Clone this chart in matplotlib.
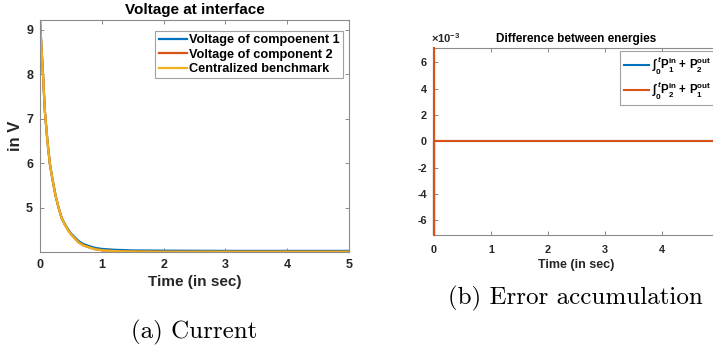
import matplotlib
matplotlib.use("Agg")
import matplotlib.pyplot as plt
from matplotlib.ticker import FuncFormatter

# --- DATA ---
# interface voltage, read at a handful of time points (sec -> V)
t_volt = [0, 0.02, 0.05, 0.08, 0.12, 0.16, 0.20, 0.25, 0.30, 0.35, 0.40, 0.46,
          0.50, 0.62, 0.70, 0.78, 0.90, 1.0, 1.2, 1.5, 2.0, 3.0, 4.0, 5.0]
v_comp1 = [9.20, 8.70, 7.95, 7.15, 6.50, 5.98, 5.65, 5.28, 5.00, 4.77, 4.63, 4.50,
           4.42, 4.25, 4.18, 4.14, 4.09, 4.07, 4.05, 4.035, 4.03, 4.025, 4.025, 4.025]
v_comp2 = [9.20, 8.70, 7.95, 7.15, 6.50, 5.98, 5.65, 5.28, 5.00, 4.76, 4.62, 4.48,
           4.40, 4.22, 4.15, 4.11, 4.06, 4.04, 4.02, 4.01, 4.005, 4.005, 4.005, 4.005]
v_bench = [9.20, 8.70, 7.95, 7.15, 6.50, 5.98, 5.65, 5.28, 5.00, 4.76, 4.62, 4.48,
           4.40, 4.22, 4.15, 4.11, 4.06, 4.04, 4.02, 4.01, 4.005, 4.005, 4.005, 4.005]

# energy mismatch: spike at t=0, zero afterwards
t_err = [0, 0, 0, 5.0]
err_12 = [0.0071, -0.0071, 0.0, 0.0]
err_21 = [0.0071, -0.0071, 0.0, 0.0]

MATLAB_BLUE = '#0072BD'
MATLAB_ORANGE = '#D95319'
MATLAB_YELLOW = '#EDB120'
AXIS_GRAY = '#8a8a8a'
TEXT_DARK = '#262626'

plt.rcParams['font.family'] = ['Liberation Sans', 'DejaVu Sans']
plt.rcParams['font.weight'] = 'bold'
plt.rcParams['axes.unicode_minus'] = False
plt.rcParams['mathtext.fontset'] = 'custom'
plt.rcParams['mathtext.rm'] = 'Liberation Sans'
plt.rcParams['mathtext.bf'] = 'Liberation Sans:bold'
plt.rcParams['mathtext.it'] = 'Liberation Sans:bold:italic'

fig = plt.figure(figsize=(7.13, 3.49), dpi=100)


def matlab_box(ax, tick_size, pad=5):
    for s in ax.spines.values():
        s.set_color(AXIS_GRAY)
        s.set_linewidth(0.8)
    ax.tick_params(direction='in', top=True, right=True, length=3,
                   width=0.7, color=AXIS_GRAY, labelcolor=TEXT_DARK,
                   labelsize=tick_size, pad=pad)


# --- (a) voltage at interface ---
ax1 = fig.add_axes([40 / 713, 97 / 349, 309 / 713, 232 / 349])
ax1.plot(t_volt, v_comp1, color=MATLAB_BLUE, lw=1.6, label='Voltage of compoenent 1')
ax1.plot(t_volt, v_comp2, color=MATLAB_ORANGE, lw=1.6, label='Voltage of component 2')
ax1.plot(t_volt, v_bench, color=MATLAB_YELLOW, lw=1.6, label='Centralized benchmark')
ax1.set_xlim(0, 5)
ax1.set_ylim(4.0, 9.22)
ax1.set_yticks([5, 6, 7, 8, 9])
matlab_box(ax1, 9)
ax1.set_title('Voltage at interface', fontsize=11, fontweight='bold', color='black', pad=4)
ax1.set_xlabel('Time (in sec)', fontsize=11, fontweight='bold', color=TEXT_DARK, labelpad=3)
ax1.set_ylabel('in V', fontsize=12, fontweight='bold', color=TEXT_DARK, labelpad=2)
leg1 = ax1.legend(loc='upper right', bbox_to_anchor=(0.981, 0.953), fontsize=9.2,
                  frameon=True, fancybox=False, handlelength=2.2, handletextpad=0.2,
                  borderpad=0.25, labelspacing=0.2, borderaxespad=0)
leg1.get_frame().set_edgecolor(AXIS_GRAY)
leg1.get_frame().set_linewidth(0.8)

# --- (b) error accumulation ---
ax2 = fig.add_axes([434 / 713, 114 / 349, 284.6 / 713, 187.3 / 349])
ax2.plot(t_err, err_12, color=MATLAB_BLUE, lw=1.5, clip_on=False, zorder=3,
         label=r'$\int_{\mathbf{0}}^{t}\mathbf{P}_{\mathbf{1}}^{\mathbf{in}}\ \mathbf{+}\ \mathbf{P}_{\mathbf{2}}^{\mathbf{out}}$')
ax2.plot(t_err, err_21, color=MATLAB_ORANGE, lw=1.5, clip_on=False, zorder=3,
         label=r'$\int_{\mathbf{0}}^{t}\mathbf{P}_{\mathbf{2}}^{\mathbf{in}}\ \mathbf{+}\ \mathbf{P}_{\mathbf{1}}^{\mathbf{out}}$')
ax2.set_xlim(0, 5)
ax2.set_ylim(-7.1e-3, 7.1e-3)
ax2.set_xticks([0, 1, 2, 3, 4])
ax2.set_yticks([-6e-3, -4e-3, -2e-3, 0, 2e-3, 4e-3, 6e-3])
# tick labels in units of 1e-3, exponent shown above the axis
ax2.yaxis.set_major_formatter(FuncFormatter(lambda v, pos: f'{v * 1e3:g}'))
ax2.text(-0.01, 1.012, r'$\times10^{-3}$', transform=ax2.transAxes,
         fontsize=8, fontweight='normal', color=TEXT_DARK, ha='left', va='bottom')
matlab_box(ax2, 7.8)
ax2.tick_params(axis='x', pad=7)
ax2.set_title('Difference between energies', fontsize=8.5, fontweight='bold', color='black', pad=4)
ax2.set_xlabel('Time (in sec)', fontsize=9, fontweight='bold', color=TEXT_DARK, labelpad=3)
leg2 = ax2.legend(loc='upper right', fontsize=8.3, frameon=True, fancybox=False,
                  handlelength=2.2, handletextpad=0.3, borderpad=0.3,
                  labelspacing=0.2, borderaxespad=0.3)
leg2.get_frame().set_edgecolor(AXIS_GRAY)
leg2.get_frame().set_linewidth(0.8)

# --- sub-figure captions ---
fig.text(194 / 713, 1 - 332 / 349, '(a) Current', family='cmr10', fontweight='normal',
         fontsize=18, ha='center', va='center')
fig.text(575 / 713, 1 - 298 / 349, '(b) Error accumulation', family='cmr10',
         fontweight='normal', fontsize=18, ha='center', va='center')

fig.savefig('out.png', dpi=100)
